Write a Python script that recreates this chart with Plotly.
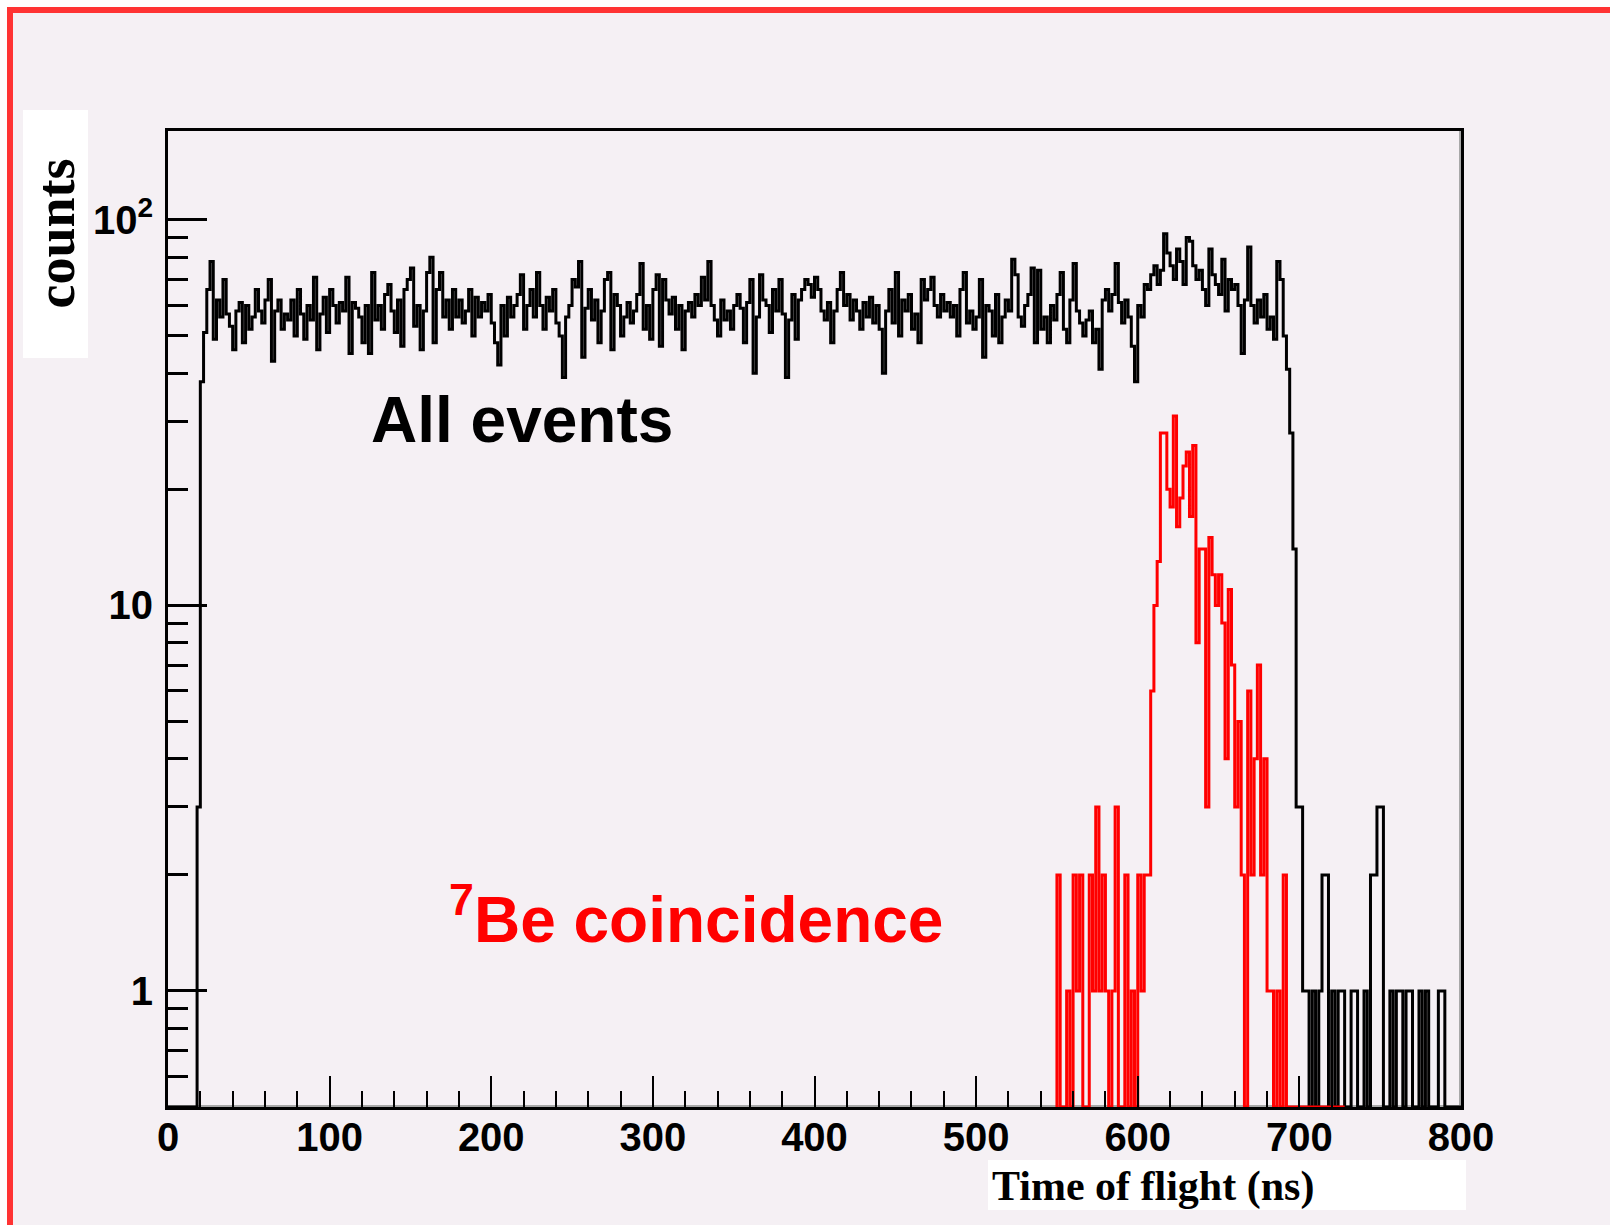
import numpy as np
import plotly.graph_objects as go

# ---------------- data ----------------
BIN_WIDTH_NS = 2

# "All events" time-of-flight histogram, bins of 2 ns starting at 0 ns (rows of 20 ns)
all_events_start_ns = 0
all_events_counts = [
    0, 0, 0, 0, 0, 0, 0, 0, 0, 3,          # 0
    38, 51, 66, 78, 49, 62, 56, 70, 57, 53,  # 20
    46, 58, 61, 48, 60, 52, 56, 66, 58, 54,  # 40
    62, 70, 43, 58, 62, 52, 57, 55, 62, 50,  # 60
    66, 57, 49, 60, 55, 71, 46, 57, 63, 51,  # 80
    66, 60, 54, 61, 58, 71, 45, 61, 59, 56,  # 100
    48, 60, 45, 73, 55, 60, 52, 64, 68, 58,  # 120
    51, 62, 47, 66, 70, 75, 53, 60, 46, 58,  # 140
    73, 80, 48, 66, 73, 56, 62, 52, 66, 56,  # 160
    62, 54, 58, 66, 50, 63, 56, 61, 58, 64,  # 180
    54, 48, 42, 60, 50, 63, 56, 60, 64, 72,  # 200
    52, 60, 66, 56, 73, 60, 52, 63, 58, 66,  # 220
    54, 50, 39, 56, 60, 70, 67, 78, 44, 59,  # 240
    66, 55, 62, 48, 58, 70, 73, 46, 64, 60,  # 260
    50, 56, 61, 54, 58, 64, 77, 52, 60, 49,  # 280
    66, 72, 47, 70, 62, 57, 63, 52, 60, 46,  # 300
    58, 61, 56, 64, 60, 71, 62, 78, 60, 55,  # 320
    50, 62, 55, 58, 52, 60, 64, 59, 48, 61,  # 340
    70, 40, 56, 72, 62, 60, 51, 66, 58, 70,  # 360
    57, 39, 55, 64, 49, 62, 66, 70, 68, 63,  # 380
    71, 66, 58, 55, 61, 48, 58, 66, 73, 60,  # 400
    64, 55, 62, 58, 52, 61, 56, 63, 54, 60,  # 420
    52, 40, 58, 66, 54, 73, 50, 62, 58, 64,  # 440
    52, 57, 48, 70, 62, 66, 71, 60, 56, 64,  # 460
    58, 61, 56, 60, 50, 66, 73, 54, 58, 52,  # 480
    56, 70, 44, 60, 58, 50, 64, 48, 56, 62,  # 500
    58, 79, 72, 56, 53, 60, 64, 75, 48, 74,  # 520
    52, 56, 48, 60, 55, 64, 73, 52, 48, 62,  # 540
    77, 58, 54, 50, 55, 58, 48, 52, 41, 62,  # 560
    66, 58, 64, 77, 61, 54, 62, 56, 47, 38,  # 580
    60, 56, 68, 66, 72, 76, 68, 74, 92, 82,  # 600
    76, 70, 84, 78, 68, 90, 88, 76, 70, 74,  # 620
    66, 60, 84, 72, 68, 64, 79, 58, 70, 66,  # 640
    68, 60, 45, 62, 85, 60, 54, 62, 56, 64,  # 660
    52, 56, 49, 78, 70, 50, 41, 28, 14, 3,   # 680
    3, 1, 1, 0, 1, 0, 1, 2, 2, 0,            # 700
    1, 0, 1, 1, 0, 0, 1, 1, 0, 0,            # 720
    1, 0, 2, 2, 3, 3, 0, 0, 1, 0,            # 740
    1, 1, 0, 1, 1, 0, 0, 1, 0, 1,            # 760
    0, 0, 0, 1, 1, 0, 0, 0, 0, 0,            # 780
]

# "7Be coincidence" histogram, bins of 2 ns starting at 550 ns
be7_start_ns = 550
be7_counts = [
    2, 0, 0, 1, 0, 2, 1, 2, 0, 0,            # 550
    2, 1, 3, 1, 2, 1, 0, 1, 3, 0,            # 570
    0, 2, 0, 1, 0, 2, 1, 2, 2, 6,            # 590
    10, 13, 28, 28, 20, 18, 31, 16, 19, 23,  # 610
    25, 17, 26, 8, 14, 14, 3, 15, 12, 10,    # 630
    12, 9, 4, 11, 7, 3, 5, 2, 0, 6,          # 650
    2, 4, 7, 2, 4, 1, 1, 0, 1, 0,            # 670
    2, 0, 0, 0, 0, 0, 0, 0, 0, 0,            # 690
    0, 0, 0, 0, 0, 0, 0, 0, 0,               # 710
]

x_tick_values = [0, 100, 200, 300, 400, 500, 600, 700, 800]
x_tick_labels = ["0", "100", "200", "300", "400", "500", "600", "700", "800"]
x_minor_values = [v for v in range(20, 800, 20) if v % 100 != 0]
y_tick_values = [1, 10, 100]
y_tick_labels = ["1", "10", "10<sup>2</sup>"]
y_minor_values = [0.5, 0.6, 0.7, 0.8, 0.9, 2, 3, 4, 5, 6, 7, 8, 9,
                  20, 30, 40, 50, 60, 70, 80, 90]

X_RANGE = [0, 800]
Y_MIN, Y_MAX = 0.5, 170

# ---------------- styling / layout ----------------
W, H = 1610, 1225
ML, MR, MT, MB = 168, 149, 131, 118
PW, PH = W - ML - MR, H - MT - MB
BG = "#F5F0F4"
SANS = "Liberation Sans, Arial, sans-serif"
SERIF = "Liberation Serif, Times New Roman, serif"


def px(xp):
    return (xp - ML) / PW


def py(yp):
    return (H - MB - yp) / PH


def step_xy(start, counts):
    edges = start + BIN_WIDTH_NS * np.arange(len(counts) + 1)
    vals = [c if c > 0 else Y_MIN for c in counts]
    xs = [edges[0]] + list(edges[:-1]) + [edges[-1]]
    ys = [Y_MIN] + vals + [Y_MIN]
    return xs, ys


fig = go.Figure()

bx, by = step_xy(all_events_start_ns, all_events_counts)
fig.add_trace(go.Scatter(x=bx, y=by, mode="lines", line=dict(color="black", width=3, shape="hv"),
                         hoverinfo="skip"))
rx, ry = step_xy(be7_start_ns, be7_counts)
fig.add_trace(go.Scatter(x=rx, y=ry, mode="lines", line=dict(color="#FF0000", width=3, shape="hv"),
                         hoverinfo="skip"))

fig.update_xaxes(
    range=X_RANGE, showgrid=False, zeroline=False,
    showline=True, linecolor="black", linewidth=3, mirror=True,
    tickmode="array", tickvals=x_tick_values, ticktext=x_tick_labels,
    ticks="inside", ticklen=31, tickwidth=2, tickcolor="black",
    minor=dict(tickmode="array", tickvals=x_minor_values, ticks="inside",
               ticklen=16, tickwidth=2, tickcolor="black", showgrid=False),
    tickfont=dict(family=SANS, size=40, color="black", weight="bold"),
    ticklabelstandoff=-7,
)
fig.update_yaxes(
    type="log", range=[np.log10(Y_MIN), np.log10(Y_MAX)], showgrid=False, zeroline=False,
    showline=True, linecolor="black", linewidth=3, mirror=True,
    tickmode="array", tickvals=y_tick_values, ticktext=y_tick_labels,
    ticks="inside", ticklen=39, tickwidth=3, tickcolor="black",
    minor=dict(tickmode="array", tickvals=y_minor_values, ticks="inside",
               ticklen=20, tickwidth=2.5, tickcolor="black", showgrid=False),
    tickfont=dict(family=SANS, size=40, color="black", weight="bold"),
    ticklabelstandoff=4,
)

shapes = [
    # white outer strips and red border
    dict(type="rect", xref="paper", yref="paper", x0=px(0), x1=px(W), y0=py(0), y1=py(7),
         fillcolor="white", line=dict(width=0), layer="below"),
    dict(type="rect", xref="paper", yref="paper", x0=px(0), x1=px(7), y0=py(0), y1=py(H),
         fillcolor="white", line=dict(width=0), layer="below"),
    dict(type="rect", xref="paper", yref="paper", x0=px(7), x1=px(W), y0=py(7), y1=py(13),
         fillcolor="#FF3333", line=dict(width=0), layer="below"),
    dict(type="rect", xref="paper", yref="paper", x0=px(7), x1=px(13), y0=py(7), y1=py(H),
         fillcolor="#FF3333", line=dict(width=0), layer="below"),
    # white boxes behind axis titles
    dict(type="rect", xref="paper", yref="paper", x0=px(23), x1=px(88), y0=py(358), y1=py(110),
         fillcolor="white", line=dict(width=0), layer="below"),
    dict(type="rect", xref="paper", yref="paper", x0=px(988), x1=px(1466), y0=py(1210), y1=py(1160),
         fillcolor="white", line=dict(width=0), layer="below"),
    # grey inner frame shadow (bottom and right)
    dict(type="line", xref="x domain", yref="y domain", x0=0, x1=1, y0=1.0 / PH, y1=1.0 / PH,
         line=dict(color="#A8A8A8", width=2), layer="below"),
    dict(type="line", xref="x domain", yref="y domain", x0=1 - 1.0 / PW, x1=1 - 1.0 / PW, y0=0, y1=1,
         line=dict(color="#A8A8A8", width=2), layer="below"),
]

annotations = [
    dict(text="counts", xref="paper", yref="paper", x=px(55.5), y=py(234), showarrow=False,
         textangle=-90, xanchor="center", yanchor="middle",
         font=dict(family=SERIF, size=54, color="black", weight="bold")),
    dict(text="Time of flight (ns)", xref="paper", yref="paper", x=px(990), y=py(1186), showarrow=False,
         xanchor="left", yanchor="middle",
         font=dict(family=SERIF, size=42, color="black", weight="bold")),
    dict(text="All events", xref="paper", yref="paper", x=px(522), y=py(420), showarrow=False,
         xanchor="center", yanchor="middle",
         font=dict(family=SANS, size=64, color="black", weight="bold")),
    dict(text="<sup>7</sup>Be coincidence", xref="paper", yref="paper", x=px(447), y=py(915),
         showarrow=False, xanchor="left", yanchor="middle",
         font=dict(family=SANS, size=64, color="#FF0000", weight="bold")),
]

fig.update_layout(
    width=W, height=H, margin=dict(l=ML, r=MR, t=MT, b=MB, pad=0),
    paper_bgcolor=BG, plot_bgcolor=BG, showlegend=False,
    shapes=shapes, annotations=annotations,
)

fig.write_html("out.html")
